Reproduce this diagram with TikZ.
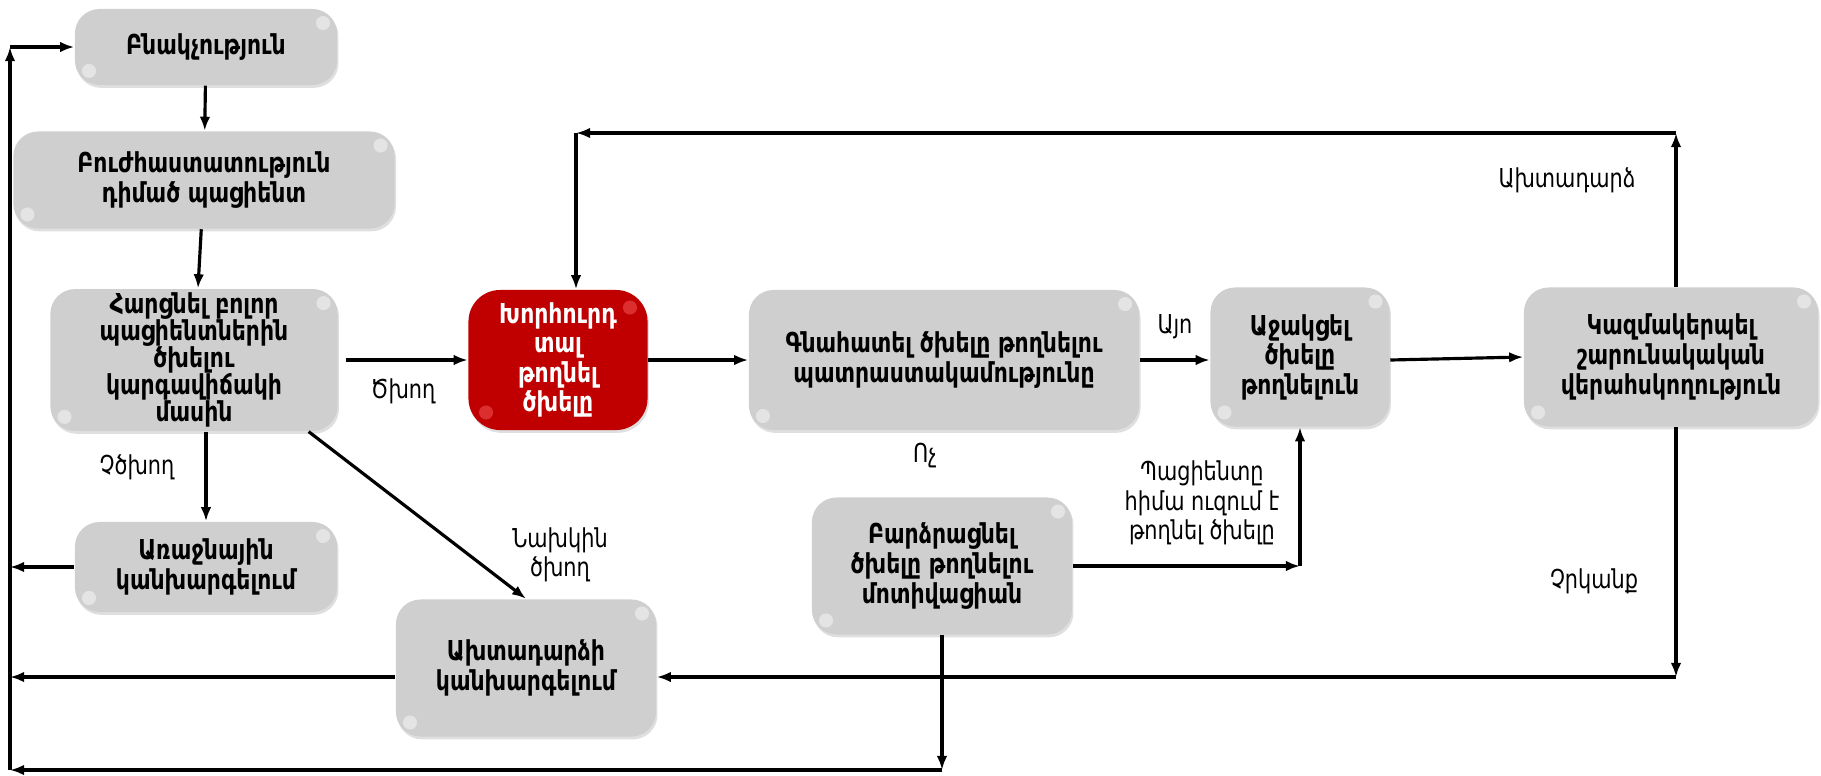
\documentclass[tikz,border=0pt]{standalone}
\usepackage{fontspec}
\setmainfont{DejaVu Sans}[FakeStretch=0.8]
\usetikzlibrary{shadows,arrows.meta}

\definecolor{boxgray}{RGB}{208,207,208}
\definecolor{boxred}{RGB}{192,0,0}

\tikzset{
  box/.style={fill=boxgray, rounded corners=7pt, align=center, inner sep=1pt,
    font=\bfseries\fontsize{7.8}{8.4}\selectfont,
    drop shadow={opacity=0.25, shadow xshift=0.4pt, shadow yshift=-0.8pt},
    path picture={
      \fill[white,opacity=0.45] ([xshift=-4pt,yshift=-4pt]path picture bounding box.north east) circle (2pt);
      \fill[white,opacity=0.45] ([xshift=4pt,yshift=4pt]path picture bounding box.south west) circle (2pt);
    }},
  redbox/.style={box, fill=boxred, text=white, rounded corners=9pt,
    path picture={
      \fill[red!60!white,opacity=0.45] ([xshift=-5pt,yshift=-5pt]path picture bounding box.north east) circle (2pt);
      \fill[red!60!white,opacity=0.45] ([xshift=5pt,yshift=5pt]path picture bounding box.south west) circle (2pt);
    }},
  lbl/.style={align=center, font=\fontsize{7.4}{8.4}\selectfont},
  arr/.style={-{Latex[length=4pt,width=3pt]}, line width=0.9pt}
}

\begin{document}
\begin{tikzpicture}[x=0.01cm,y=-0.01cm]
\useasboundingbox (0,0) rectangle (1821,775);

% left column
\node[box, minimum width=2.62cm, minimum height=0.76cm] (bnak) at (206,47) {Բնակչություն};
\node[box, minimum width=3.81cm, minimum height=0.97cm] (buzh) at (204,180) {Բուժհաստատություն\\դիմած պացիենտ};
\node[box, minimum width=2.87cm, minimum height=1.40cm, font=\bfseries\fontsize{7.8}{7.7}\selectfont] (harc) at (194,360) {Հարցնել բոլոր\\պացիենտներին\\ծխելու\\կարգավիճակի\\մասին};
\node[box, minimum width=2.62cm, minimum height=0.90cm] (araj) at (206,567) {Առաջնային\\կանխարգելում};
\node[box, minimum width=2.60cm, minimum height=1.37cm] (akht) at (526,668) {Ախտադարձի\\կանխարգելում};

% middle row
\node[redbox, minimum width=1.79cm, minimum height=1.40cm] (red) at (558,360) {Խորհուրդ\\տալ\\թողնել\\ծխելը};
\node[box, minimum width=3.90cm, minimum height=1.40cm] (gnah) at (944,360) {Գնահատել ծխելը թողնելու\\պատրաստակամությունը};
\node[box, minimum width=1.79cm, minimum height=1.39cm] (ajak) at (1300,357) {Աջակցել\\ծխելը\\թողնելուն};
\node[box, minimum width=2.94cm, minimum height=1.39cm] (kazm) at (1671,357) {Կազմակերպել\\շարունակական\\վերահսկողություն};
\node[box, minimum width=2.60cm, minimum height=1.37cm] (bardz) at (942,566) {Բարձրացնել\\ծխելը թողնելու\\մոտիվացիան};

% helper lines
\coordinate (leftcol) at (10,0);
\coordinate (toprow) at (0,133);
\coordinate (midrow) at (0,677);
\coordinate (botrow) at (0,770);

\draw[arr] (bnak) -- (buzh);
\draw[arr] (buzh) -- (harc);
\draw[arr] (harc.south -| araj.north) -- (araj.north);
\draw[arr] (harc.-32) -- (akht.north);
\draw[arr] ([xshift=0.08cm]harc.east) -- (red.west);
\draw[arr] (red.east) -- (gnah.west);
\draw[arr] (gnah.east |- red.east) -- (ajak.west |- red.east);
\draw[arr] (ajak.east |- red.east) -- (kazm.west);

% relapse loop
\draw[arr] ([xshift=0.05cm]kazm.north) -- ([xshift=0.05cm]kazm.north |- toprow);
\draw[arr] ([xshift=0.05cm]kazm.north |- toprow) -- ([xshift=0.18cm]red.north |- toprow);
\draw[arr] ([xshift=0.18cm]red.north |- toprow) -- ([xshift=0.18cm]red.north);

% no relapse
\draw[arr] ([xshift=0.05cm]kazm.south) -- ([xshift=0.05cm]kazm.south |- midrow);
\draw[arr] ([xshift=0.05cm]kazm.south |- midrow) -- (akht.east |- midrow);

% motivation
\draw[arr] (bardz.east) -- (ajak.south |- bardz.east);
\draw[arr] (ajak.south |- bardz.east) -- (ajak.south);

% back to population
\draw[arr] (bardz.south) -- (bardz.south |- botrow);
\draw[arr] (bardz.south |- botrow) -- (leftcol |- botrow);
\draw[arr] (akht.west |- midrow) -- (leftcol |- midrow);
\draw[arr] (araj.west) -- (leftcol |- araj.west);
\draw[arr] (leftcol |- botrow) -- (leftcol |- bnak.west);
\draw[arr] (leftcol |- bnak.west) -- (bnak.west);

% labels
\node[lbl] (smok) at (403,391) {Ծխող};
\node[lbl] (nonsmok) at (137,467) {Չծխող};
\node[lbl] (exsmok) at (560,555) {Նախկին\\ծխող};
\node[lbl] (yes) at (1175,327) {Այո};
\node[lbl] (no) at (925,456) {Ոչ};
\node[lbl] (wants) at (1202,503) {Պացիենտը\\հիմա ուզում է\\թողնել ծխելը};
\node[lbl] (relapse) at (1567,180) {Ախտադարձ};
\node[lbl] (norelapse) at (1594,581) {Չրկանք};
\end{tikzpicture}
\end{document}
